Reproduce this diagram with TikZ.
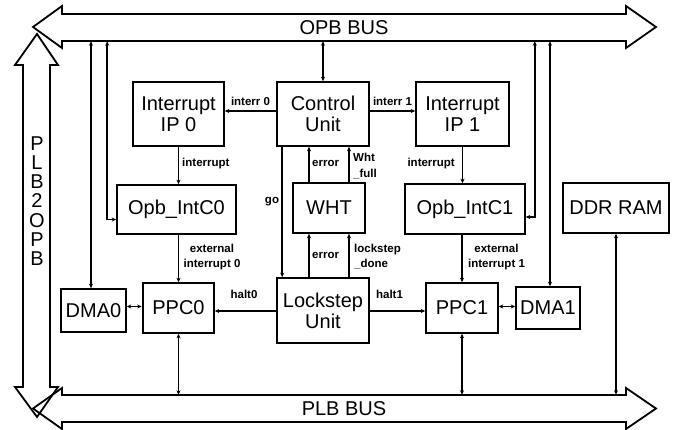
\documentclass[tikz,border=0pt]{standalone}
\usepackage{fontspec}
\setmainfont{Liberation Sans}
\usetikzlibrary{arrows.meta,calc}
\begin{document}
\begin{tikzpicture}[x=1pt,y=-1pt,
  box/.style={draw, line width=1.6pt, inner sep=0pt, align=center,
    font=\fontsize{20}{21}\selectfont},
  lbl/.style={inner sep=0pt, align=center, font=\bfseries\fontsize{11.5}{15.5}\selectfont},
  lbll/.style={lbl, align=left},
  tip/.tip={Stealth[length=4.5pt,width=4pt]},
  link/.style={line width=1.6pt, -tip},
  both/.style={line width=1.6pt, tip-tip},
  bus/.style={draw, line width=1.8pt, line join=miter},
  busname/.style={inner sep=0pt, font=\fontsize{20}{21}\selectfont}]
\useasboundingbox (0,0) rectangle (678,430);

% ---- buses ----
\draw[bus] (62,14) -- (626,14) -- (626,6) -- (656,27) -- (626,48) -- (626,41)
  -- (62,41) -- (62,48) -- (33,27) -- (62,6) -- cycle;
\node[busname, minimum width=564pt, minimum height=27pt] (opb) at (344,27.5) {OPB BUS};

\draw[bus] (62,395) -- (626,395) -- (626,388) -- (656,408.5) -- (626,429) -- (626,422)
  -- (62,422) -- (62,429) -- (33,408.5) -- (62,388) -- cycle;
\node[busname, minimum width=564pt, minimum height=27pt] (plb) at (344,408.5) {PLB BUS};

\draw[bus] (23,65) -- (15,65) -- (37,34) -- (58,65) -- (50,65) -- (50,387)
  -- (58,387) -- (37,417) -- (15,387) -- (23,387) -- cycle;
\node[busname, align=center, font=\fontsize{20}{19.2}\selectfont] (p2o) at (37,201)
  {P\\L\\B\\2\\O\\P\\B};

% ---- blocks ----
\node[box, minimum width=91pt, minimum height=64pt] (ip0) at (178.5,114) {Interrupt\\IP 0};
\node[box, minimum width=92pt, minimum height=64pt] (cu)  at (323,114)   {Control\\Unit};
\node[box, minimum width=93pt, minimum height=64pt] (ip1) at (462.5,114) {Interrupt\\IP 1};

\node[box, minimum width=119pt, minimum height=49pt] (ic0) at (176.5,209.5) {Opb\_IntC0};
\node[box, minimum width=72pt,  minimum height=50pt] (wht) at (329,208)     {WHT};
\node[box, minimum width=120pt, minimum height=50pt] (ic1) at (465,209)     {Opb\_IntC1};
\node[box, minimum width=106pt, minimum height=50pt] (ddr) at (616,208)     {DDR RAM};

\node[box, minimum width=65pt, minimum height=43pt] (dma0) at (93.5,310.5) {DMA0};
\node[box, minimum width=71pt, minimum height=50pt] (ppc0) at (178.5,308)  {PPC0};
\node[box, minimum width=92pt, minimum height=65pt] (ls)   at (323,310.5)  {Lockstep\\Unit};
\node[box, minimum width=72pt, minimum height=50pt] (ppc1) at (462,308)    {PPC1};
\node[box, minimum width=64pt, minimum height=42pt] (dma1) at (548,308)    {DMA1};

% ---- OPB taps ----
\draw[both] (cu.north) -- (cu.north |- opb.south);
\coordinate (t1) at ([xshift=-2.5pt]dma0.north);
\draw[both] (t1) -- (t1 |- opb.south);
\draw[both] ([yshift=-10pt]ic0.west) -- ++(-9,0) coordinate (t2) -- (t2 |- opb.south);
\draw[both] ([yshift=-8pt]ic1.east) -- ++(9,0) coordinate (t3) -- (t3 |- opb.south);
\coordinate (t4) at ([xshift=2pt]dma1.north);
\draw[both] (t4) -- (t4 |- opb.south);

% ---- PLB taps ----
\draw[both] (ppc0.south) -- (ppc0.south |- plb.north);
\draw[both] (ppc1.south) -- (ppc1.south |- plb.north);
\draw[both] (ddr.south) -- (ddr.south |- plb.north);

% ---- interrupts ----
\draw[link] ([yshift=3pt]cu.west) -- ([yshift=3pt]cu.west -| ip0.east)
  node[lbl, midway, above=5pt] {interr 0};
\draw[link] ([yshift=3pt]cu.east) -- ([yshift=3pt]cu.east -| ip1.west)
  node[lbl, midway, above=5pt] {interr 1};
\draw[link] (ip0.south) -- (ip0.south |- ic0.north);
\node[lbl, anchor=west] (li0) at (182,164) {interrupt};
\draw[link] (ip1.south) -- (ip1.south |- ic1.north);
\node[lbl, anchor=east] (li1) at (455,164) {interrupt};
\draw[link] (ppc0.north |- ic0.south) -- (ppc0.north);
\node[lbl] (le0) at (212,257) {external\\interrupt 0};
\draw[link] (ppc1.north |- ic1.south) -- (ppc1.north);
\node[lbl] (le1) at (496.5,257) {external\\interrupt 1};

% ---- lockstep control ----
\draw[link] ([yshift=-0.5pt]ls.west) -- ([yshift=-0.5pt]ls.west -| ppc0.east);
\node[lbl] (lh0) at (244,294) {halt0};
\draw[link] ([yshift=-0.5pt]ls.east) -- ([yshift=-0.5pt]ls.east -| ppc1.west);
\node[lbl] (lh1) at (389.5,294) {halt1};
\draw[both] ([xshift=-0.5pt,yshift=1.5pt]ppc0.west) -- ([yshift=1.5pt]ppc0.west -| dma0.east);
\draw[both] ([yshift=1.5pt]ppc1.east) -- ([yshift=1.5pt]ppc1.east -| dma1.west);

\draw[link] ([xshift=6pt]cu.south west) -- ([xshift=6pt]ls.north west);
\node[lbl] (lgo) at (272,202) {go};

\coordinate (wa) at ([xshift=-20pt]wht.north);
\coordinate (wb) at ([xshift=20pt]wht.north);
\coordinate (wc) at ([xshift=-20pt]wht.south);
\coordinate (wd) at ([xshift=20pt]wht.south);
\draw[link] (wa) -- (wa |- cu.south);
\draw[link] (wb) -- (wb |- cu.south);
\draw[link] (wc |- ls.north) -- (wc);
\draw[link] (wd |- ls.north) -- (wd);
\node[lbl, anchor=west] (ler1) at (312,163) {error};
\node[lbll, anchor=west] (lwf) at (353,166) {Wht\\\_full};
\node[lbl, anchor=west] (ler2) at (312,255) {error};
\node[lbll, anchor=west] (lld) at (354,256.5) {lockstep\\\_done};
\end{tikzpicture}
\end{document}
